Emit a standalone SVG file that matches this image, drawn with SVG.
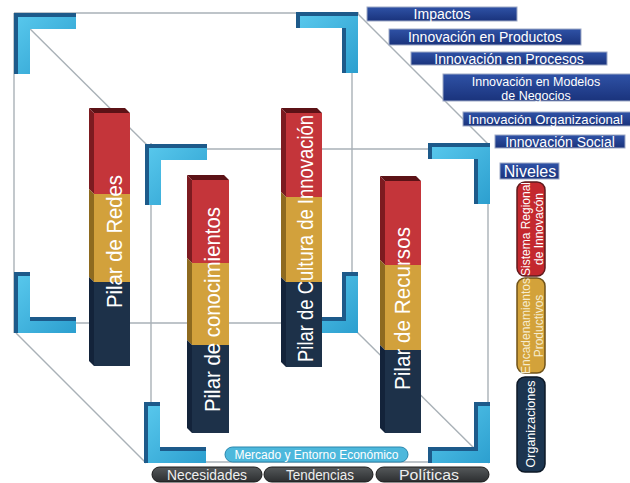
<svg xmlns="http://www.w3.org/2000/svg" xmlns:xlink="http://www.w3.org/1999/xlink" width="630" height="483" viewBox="0 0 630 483">
<style>
.ln{stroke:#a9b1b7;stroke-width:1.4;fill:none}
.bd{fill:#1d5a8a;stroke:#1d5a8a;stroke-width:4;stroke-linejoin:miter}
.bf{fill:url(#gCyan)}
.t{font-family:"Liberation Sans",Arial,Helvetica,sans-serif;fill:#fff}
.bt{font-size:22px}
.lb{fill:url(#gBlue);stroke:#9ea9c6;stroke-width:1}
.lt{font-size:14px;text-anchor:middle}
.pt{font-size:12px;text-anchor:middle}
.dk{fill:url(#gDark);stroke:#1c1c1c;stroke-width:1}
.rF{fill:#c4353a}.rS{fill:#7c1b20}.tp{fill:#5c1216}
.gF{fill:#d2a13c}.gS{fill:#8e6a1f}
.nF{fill:#1d3149}.nS{fill:#13233a}
</style>
<defs>
<linearGradient id="gCyan" x1="0" y1="0" x2="1" y2="1">
<stop offset="0" stop-color="#57c7ec"/><stop offset="1" stop-color="#2c9fcf"/>
</linearGradient>
<linearGradient id="gBlue" x1="0" y1="0" x2="0" y2="1">
<stop offset="0" stop-color="#2f52a6"/><stop offset="1" stop-color="#1a337c"/>
</linearGradient>
<linearGradient id="gDark" x1="0" y1="0" x2="0" y2="1">
<stop offset="0" stop-color="#55595b"/><stop offset="1" stop-color="#2c2e30"/>
</linearGradient>
<polygon id="bTL" points="0,0 58,0 58,12 12,12 12,57 0,57"/>
<polygon id="bTR" points="0,0 58,0 58,57 46,57 46,12 0,12"/>
<polygon id="bBL" points="0,0 12,0 12,45 58,45 58,57 0,57"/>
<polygon id="bBR" points="46,0 58,0 58,57 0,57 0,45 46,45"/>
</defs>
<rect width="630" height="483" fill="#fff"/>

<g id="connectors">
<line class="ln" x1="14" y1="13" x2="359" y2="13"/>
<line class="ln" x1="14" y1="13" x2="14" y2="333"/>
<line class="ln" x1="352" y1="13" x2="352" y2="333"/>
<line class="ln" x1="14" y1="323" x2="358" y2="323"/>
<line class="ln" x1="145" y1="149" x2="490" y2="149"/>
<line class="ln" x1="151" y1="143" x2="151" y2="463"/>
<line class="ln" x1="488" y1="143" x2="488" y2="463"/>
<line class="ln" x1="144" y1="462" x2="490" y2="462"/>
<line class="ln" x1="16" y1="15" x2="147" y2="145"/>
<line class="ln" x1="16" y1="333" x2="146" y2="463"/>
<line class="ln" x1="357" y1="13" x2="488" y2="144"/>
<line class="ln" x1="357" y1="332" x2="489" y2="463"/>
</g>

<g id="bracket-outer-tl" transform="translate(18,17)"><use xlink:href="#bTL" class="bd" transform="translate(-2,-2)"/><use xlink:href="#bTL" class="bf"/></g>
<g id="bracket-outer-tr" transform="translate(300,16)"><use xlink:href="#bTR" class="bd" transform="translate(-2,-2)"/><use xlink:href="#bTR" class="bf"/></g>
<g id="bracket-outer-bl" transform="translate(18,276)"><use xlink:href="#bBL" class="bd" transform="translate(-2,-2)"/><use xlink:href="#bBL" class="bf"/></g>
<g id="bracket-outer-br" transform="translate(300,276)"><use xlink:href="#bBR" class="bd" transform="translate(-2,-2)"/><use xlink:href="#bBR" class="bf"/></g>
<g id="bracket-inner-tl" transform="translate(149,148)"><use xlink:href="#bTL" class="bd" transform="translate(-2,-2)"/><use xlink:href="#bTL" class="bf"/></g>
<g id="bracket-inner-tr" transform="translate(432,147)"><use xlink:href="#bTR" class="bd" transform="translate(-2,-2)"/><use xlink:href="#bTR" class="bf"/></g>
<g id="bracket-inner-bl" transform="translate(148,406)"><use xlink:href="#bBL" class="bd" transform="translate(-2,-2)"/><use xlink:href="#bBL" class="bf"/></g>
<g id="bracket-inner-br" transform="translate(432,406)"><use xlink:href="#bBR" class="bd" transform="translate(-2,-2)"/><use xlink:href="#bBR" class="bf"/></g>

<g id="pilar-redes">
<polygon class="tp" points="89,108 125,108 130,113 94,113"/>
<polygon class="rS" points="89,108 94,113 94,194 89,189"/>
<polygon class="gS" points="89,189 94,194 94,282 89,277"/>
<polygon class="nS" points="89,277 94,282 94,366 89,361"/>
<rect class="rF" x="94" y="113" width="36" height="81"/>
<rect class="gF" x="94" y="194" width="36" height="88"/>
<rect class="nF" x="94" y="282" width="36" height="84"/>
<text class="t bt" transform="translate(122,308) rotate(-90)" textLength="133" lengthAdjust="spacingAndGlyphs">Pilar de Redes</text>
</g>

<g id="pilar-conocimientos">
<polygon class="tp" points="187,175 224,175 229,180 192,180"/>
<polygon class="rS" points="187,175 192,180 192,263 187,258"/>
<polygon class="gS" points="187,258 192,263 192,345 187,340"/>
<polygon class="nS" points="187,340 192,345 192,433 187,428"/>
<rect class="rF" x="192" y="180" width="37" height="83"/>
<rect class="gF" x="192" y="263" width="37" height="82"/>
<rect class="nF" x="192" y="345" width="37" height="88"/>
<text class="t bt" transform="translate(220,412) rotate(-90)" textLength="205" lengthAdjust="spacingAndGlyphs">Pilar de conocimientos</text>
</g>

<g id="pilar-cultura">
<polygon class="tp" points="281,108 317,108 322,113 286,113"/>
<polygon class="rS" points="281,108 286,113 286,197 281,192"/>
<polygon class="gS" points="281,192 286,197 286,282 281,277"/>
<polygon class="nS" points="281,277 286,282 286,367 281,362"/>
<rect class="rF" x="286" y="113" width="36" height="84"/>
<rect class="gF" x="286" y="197" width="36" height="85"/>
<rect class="nF" x="286" y="282" width="36" height="85"/>
<text class="t bt" transform="translate(313,362) rotate(-90)" textLength="247" lengthAdjust="spacingAndGlyphs">Pilar de Cultura de Innovación</text>
</g>

<g id="pilar-recursos">
<polygon class="tp" points="380,176 416,176 421,181 385,181"/>
<polygon class="rS" points="380,176 385,181 385,265 380,260"/>
<polygon class="gS" points="380,260 385,265 385,350 380,345"/>
<polygon class="nS" points="380,345 385,350 385,433 380,428"/>
<rect class="rF" x="385" y="181" width="36" height="84"/>
<rect class="gF" x="385" y="265" width="36" height="85"/>
<rect class="nF" x="385" y="350" width="36" height="83"/>
<text class="t bt" transform="translate(410,390) rotate(-90)" textLength="163" lengthAdjust="spacingAndGlyphs">Pilar de Recursos</text>
</g>

<g id="impactos"><rect class="lb" x="367" y="7" width="150" height="14"/><text class="t lt" x="442" y="19">Impactos</text></g>
<g id="inn-productos"><rect class="lb" x="389" y="29" width="192" height="16"/><text class="t lt" x="485" y="42">Innovación en Productos</text></g>
<g id="inn-procesos"><rect class="lb" x="411" y="52" width="196" height="13"/><text class="t lt" x="509" y="64">Innovación en Procesos</text></g>
<g id="inn-modelos"><rect class="lb" x="443" y="74" width="192" height="27"/><text class="t lt" style="font-size:12.5px"><tspan x="536" y="85.5">Innovación en Modelos</tspan><tspan x="536" y="99.5">de Negocios</tspan></text></g>
<g id="inn-organizacional"><rect class="lb" x="463" y="112" width="172" height="14"/><text class="t" style="font-size:13.5px" x="468" y="124" textLength="155" lengthAdjust="spacingAndGlyphs">Innovación Organizacional</text></g>
<g id="inn-social"><rect class="lb" x="495" y="135" width="130" height="13"/><text class="t lt" x="560" y="147">Innovación Social</text></g>
<g id="niveles"><rect class="lb" x="500" y="163" width="59" height="16"/><text class="t lt" style="font-size:16px" x="530" y="177">Niveles</text></g>

<g id="nivel-sistema">
<rect x="517" y="182" width="28" height="94" rx="8" fill="#c4282e" stroke="#5e1a1c" stroke-width="1.5"/>
<text class="t pt" transform="translate(530,229) rotate(-90)">Sistema Regional</text>
<text class="t pt" transform="translate(543,229) rotate(-90)">de Innovacón</text>
</g>
<g id="nivel-encadenamientos">
<rect x="517" y="278" width="28" height="95" rx="8" fill="#d3a23a" stroke="#6f5218" stroke-width="1.5"/>
<text class="t pt" style="fill:#f6ecd0" transform="translate(530,326) rotate(-90)">Encadenamientos</text>
<text class="t pt" style="fill:#f6ecd0" transform="translate(543,326) rotate(-90)">Productivos</text>
</g>
<g id="nivel-organizaciones">
<rect x="517" y="377" width="28" height="95" rx="8" fill="#1c3550" stroke="#0c1826" stroke-width="1.5"/>
<text class="t pt" style="font-size:12.5px" transform="translate(535,424) rotate(-90)">Organizaciones</text>
</g>

<g id="mercado">
<rect x="225" y="447" width="183" height="15" rx="7.5" fill="#4db8dc" stroke="#2a86ad" stroke-width="1"/>
<text class="t lt" style="font-size:12px" x="316.5" y="459">Mercado y Entorno Económico</text>
</g>
<g id="necesidades"><rect class="dk" x="152" y="467" width="110" height="15" rx="7.5"/><text class="t lt" style="fill:#eee" x="207" y="480" textLength="80" lengthAdjust="spacingAndGlyphs">Necesidades</text></g>
<g id="tendencias"><rect class="dk" x="264" y="467" width="109" height="15" rx="7.5"/><text class="t lt" style="fill:#eee" x="320" y="480" textLength="68" lengthAdjust="spacingAndGlyphs">Tendencias</text></g>
<g id="politicas"><rect class="dk" x="376" y="467" width="113" height="15" rx="7.5"/><text class="t lt" style="fill:#eee" x="429" y="480" textLength="60" lengthAdjust="spacingAndGlyphs">Políticas</text></g>
</svg>
